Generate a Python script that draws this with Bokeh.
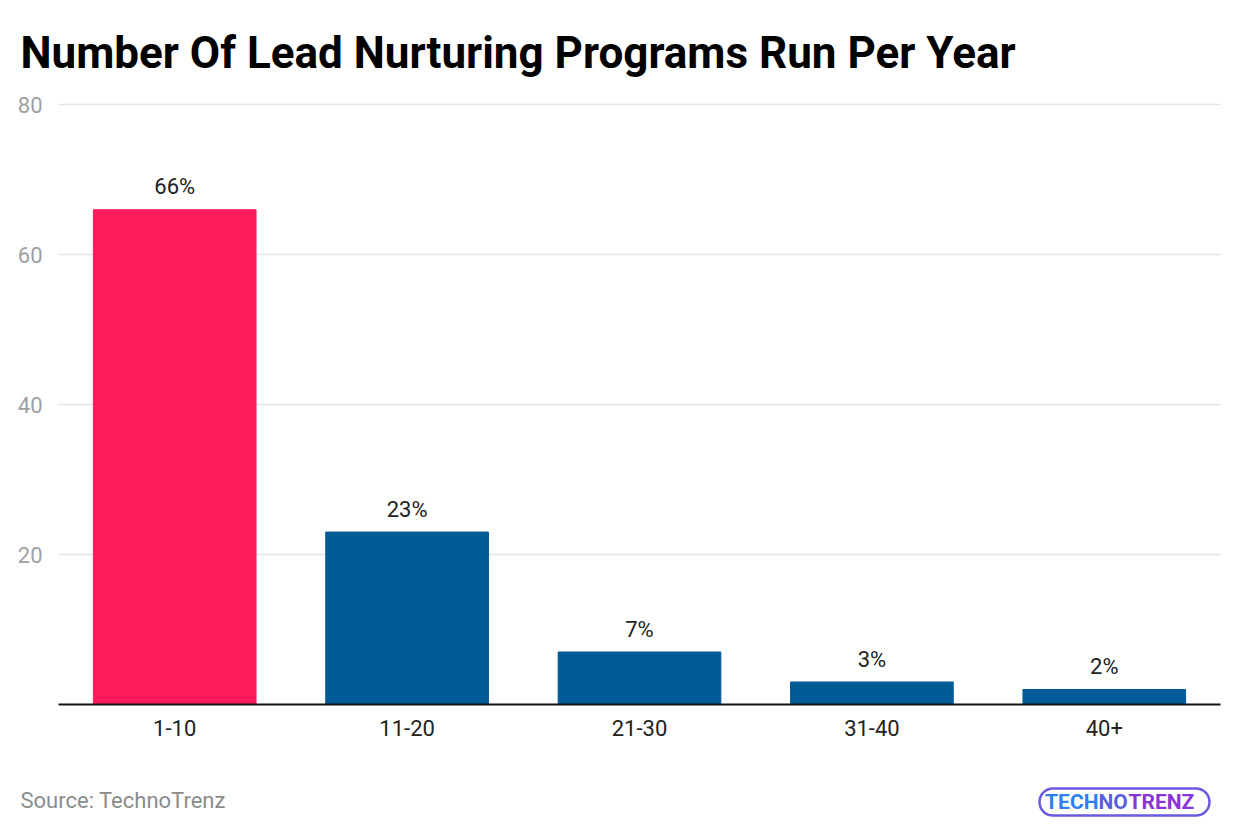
from bokeh.plotting import figure
from bokeh.layouts import column
from bokeh.models import Range1d, LabelSet, ColumnDataSource, FixedTicker
from bokeh.core.properties import value
from bokeh.embed import file_html
from bokeh.resources import INLINE

categories = ["1-10", "11-20", "21-30", "31-40", "40+"]
values = [66, 23, 7, 3, 2]
bar_colors = ["#FF1C5C", "#005A96", "#005A96", "#005A96", "#005A96"]
y_ticks = [0, 20, 40, 60, 80]

xs = [i + 0.5 for i in range(len(categories))]
src = ColumnDataSource(dict(x=xs, top=values, color=bar_colors,
                            label=[f"{v}%" for v in values]))

p = figure(width=1240, height=764, output_backend="svg", toolbar_location=None,
           x_range=Range1d(0, 5), y_range=Range1d(0, 80.3),
           min_border_left=58, min_border_right=20, min_border_top=101,
           min_border_bottom=60)
p.frame_align = False
p.title.text = "Number Of Lead Nurturing Programs Run Per Year"
p.title.text_font = "Roboto"
p.title.text_font_size = "44px"
p.title.text_font_style = "bold"
p.title.text_color = "#000000"
p.title.text_line_height = 0.8
p.title.offset = -38
p.title.standoff = 48

p.vbar(x="x", top="top", width=0.70, color="color", source=src)

p.add_layout(LabelSet(x="x", y="top", text="label", source=src, text_align="center",
                      text_baseline="middle", y_offset=23, text_font=value("Roboto"),
                      text_font_size="22px", text_color="#222222"))

p.outline_line_color = None
p.xgrid.grid_line_color = None
p.ygrid.grid_line_color = "#E3E3E3"
p.ygrid.grid_line_width = 1.5
p.ygrid.ticker = FixedTicker(ticks=y_ticks)

p.yaxis.ticker = FixedTicker(ticks=y_ticks)
p.yaxis.major_label_overrides = {0: ""}
p.yaxis.axis_line_color = None
p.yaxis.major_tick_line_color = None
p.yaxis.minor_tick_line_color = None
p.yaxis.major_label_text_font = "Roboto"
p.yaxis.major_label_text_font_size = "22px"
p.yaxis.major_label_text_color = "#A0A0A0"
p.yaxis.major_label_standoff = 10

p.xaxis.ticker = FixedTicker(ticks=xs)
p.xaxis.major_label_overrides = {x: c for x, c in zip(xs, categories)}
p.xaxis.axis_line_color = "#111111"
p.xaxis.axis_line_width = 2
p.xaxis.major_tick_line_color = None
p.xaxis.minor_tick_line_color = None
p.xaxis.major_label_text_font = "Roboto"
p.xaxis.major_label_text_font_size = "22px"
p.xaxis.major_label_text_color = "#222222"
p.xaxis.major_label_standoff = 9

# footer
f = figure(width=1240, height=70, output_backend="svg", toolbar_location=None,
           x_range=Range1d(0, 1240), y_range=Range1d(0, 70),
           x_axis_type=None, y_axis_type=None, min_border=0)
f.frame_align = False
f.outline_line_color = None
f.grid.grid_line_color = None
f.text(x=[20], y=[34], text=["Source: TechnoTrenz"], text_font=value("Roboto"),
       text_font_size="22px", text_color="#8C8C8C", text_baseline="middle")
f.quad(left=[1039], right=[1209], bottom=[19], top=[46], fill_color=None,
       line_color="#6A5AE2", line_width=2.5, border_radius=14)
f.text(x=[1098], y=[33], text=["TECH"], text_font=value("Roboto"),
       text_font_size="21px", text_font_style="bold", text_color="#2F80EE",
       text_align="right", text_baseline="middle")
f.text(x=[1098], y=[33], text=["NO"], text_font=value("Roboto"),
       text_font_size="21px", text_font_style="bold", text_color="#5A5FE0",
       text_align="left", text_baseline="middle")
f.text(x=[1128], y=[33], text=["TRENZ"], text_font=value("Roboto"),
       text_font_size="21px", text_font_style="bold", text_color="#8B35D5",
       text_align="left", text_baseline="middle")

open("out.html", "w").write(file_html(column(p, f, spacing=0), INLINE))
